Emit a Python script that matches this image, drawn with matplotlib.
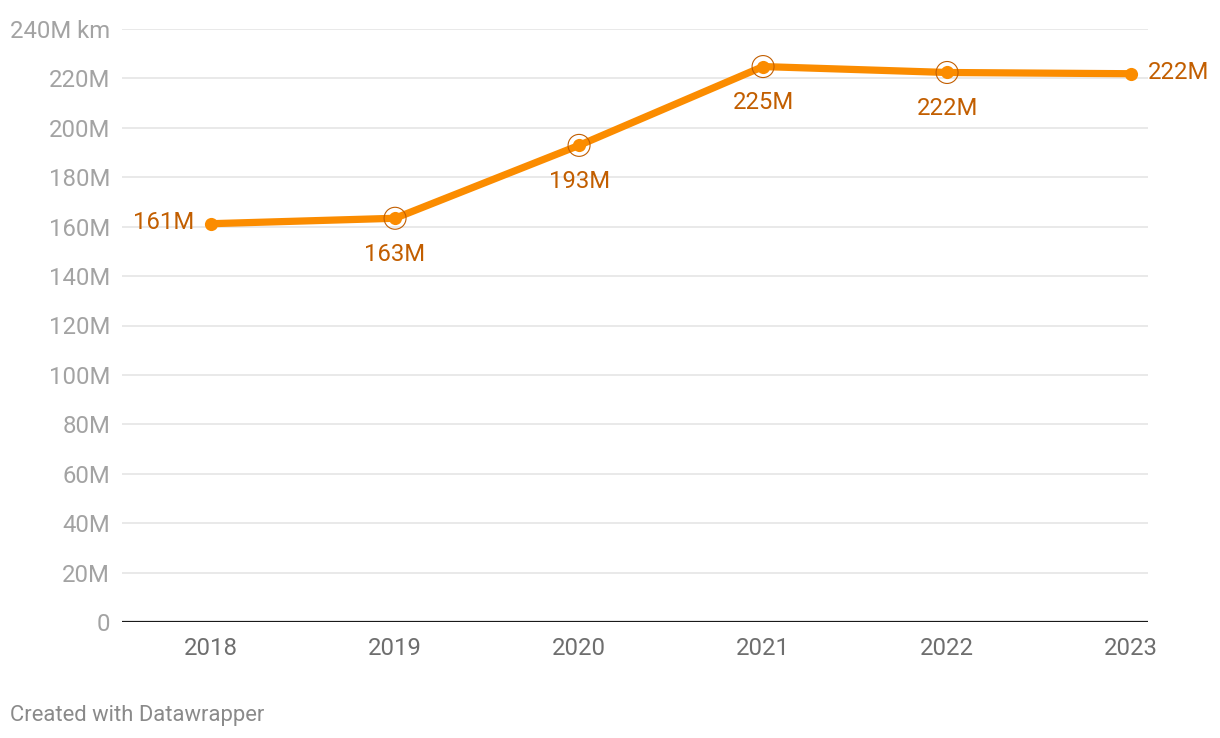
import numpy as np
import matplotlib.pyplot as plt

plt.rcParams['font.family'] = ['Roboto', 'DejaVu Sans']

years = [2018, 2019, 2020, 2021, 2022, 2023]
distance = [161.2, 163.4, 192.9, 224.8, 222.4, 221.9]  # million km
labels = ['161M', '163M', '193M', '225M', '222M', '222M']
yticks = [0, 20, 40, 60, 80, 100, 120, 140, 160, 180, 200, 220, 240]
ytick_labels = ['0', '20M', '40M', '60M', '80M', '100M', '120M', '140M',
                '160M', '180M', '200M', '220M', '240M km']

orange = '#fb8c00'
label_col = '#c25e00'
fs = 17.2

fig = plt.figure(figsize=(12.2, 7.38), dpi=100)
ax = fig.add_axes([122 / 1220, 1 - 622 / 738, (1148 - 122) / 1220, (622 - 29) / 738])

ax.set_xlim(2017.516, 2023.092)
ax.set_ylim(0, 240)

for t in yticks[1:]:
    ax.axhline(t, color='#e3e3e3', lw=1.1, zorder=1)
ax.axhline(0, color='#1a1a1a', lw=1.6, zorder=2)

ax.plot(years, distance, color=orange, lw=5.2, solid_capstyle='round', zorder=3)
ax.scatter(years, distance, s=90, color=orange, zorder=4, linewidths=0)
ax.scatter(years[1:5], distance[1:5], s=250, facecolors='none',
           edgecolors=label_col, linewidths=0.8, zorder=5)

# value labels
ax.annotate(labels[0], (years[0], distance[0]), xytext=(-12, 1), textcoords='offset points',
            ha='right', va='center', color=label_col, fontsize=fs)
ax.annotate(labels[-1], (years[-1], distance[-1]), xytext=(12, 1), textcoords='offset points',
            ha='left', va='center', color=label_col, fontsize=fs)
for x, y, s in zip(years[1:5], distance[1:5], labels[1:5]):
    ax.annotate(s, (x, y), xytext=(0, -26), textcoords='offset points',
                ha='center', va='center', color=label_col, fontsize=fs)

ax.set_yticks(yticks)
ax.set_yticklabels(ytick_labels)
ax.set_xticks(years)
ax.set_xticklabels([str(y) for y in years])
ax.tick_params(axis='y', length=0, pad=8.5, labelsize=fs, labelcolor='#a3a3a3')
ax.tick_params(axis='x', length=0, pad=11, labelsize=fs, labelcolor='#6e6e6e')
for sp in ax.spines.values():
    sp.set_visible(False)

fig.text(10 / 1220, 1 - 715 / 738, 'Created with Datawrapper', ha='left', va='center',
         fontsize=15.8, color='#8a8a8a')

plt.savefig('out.png', dpi=100)
